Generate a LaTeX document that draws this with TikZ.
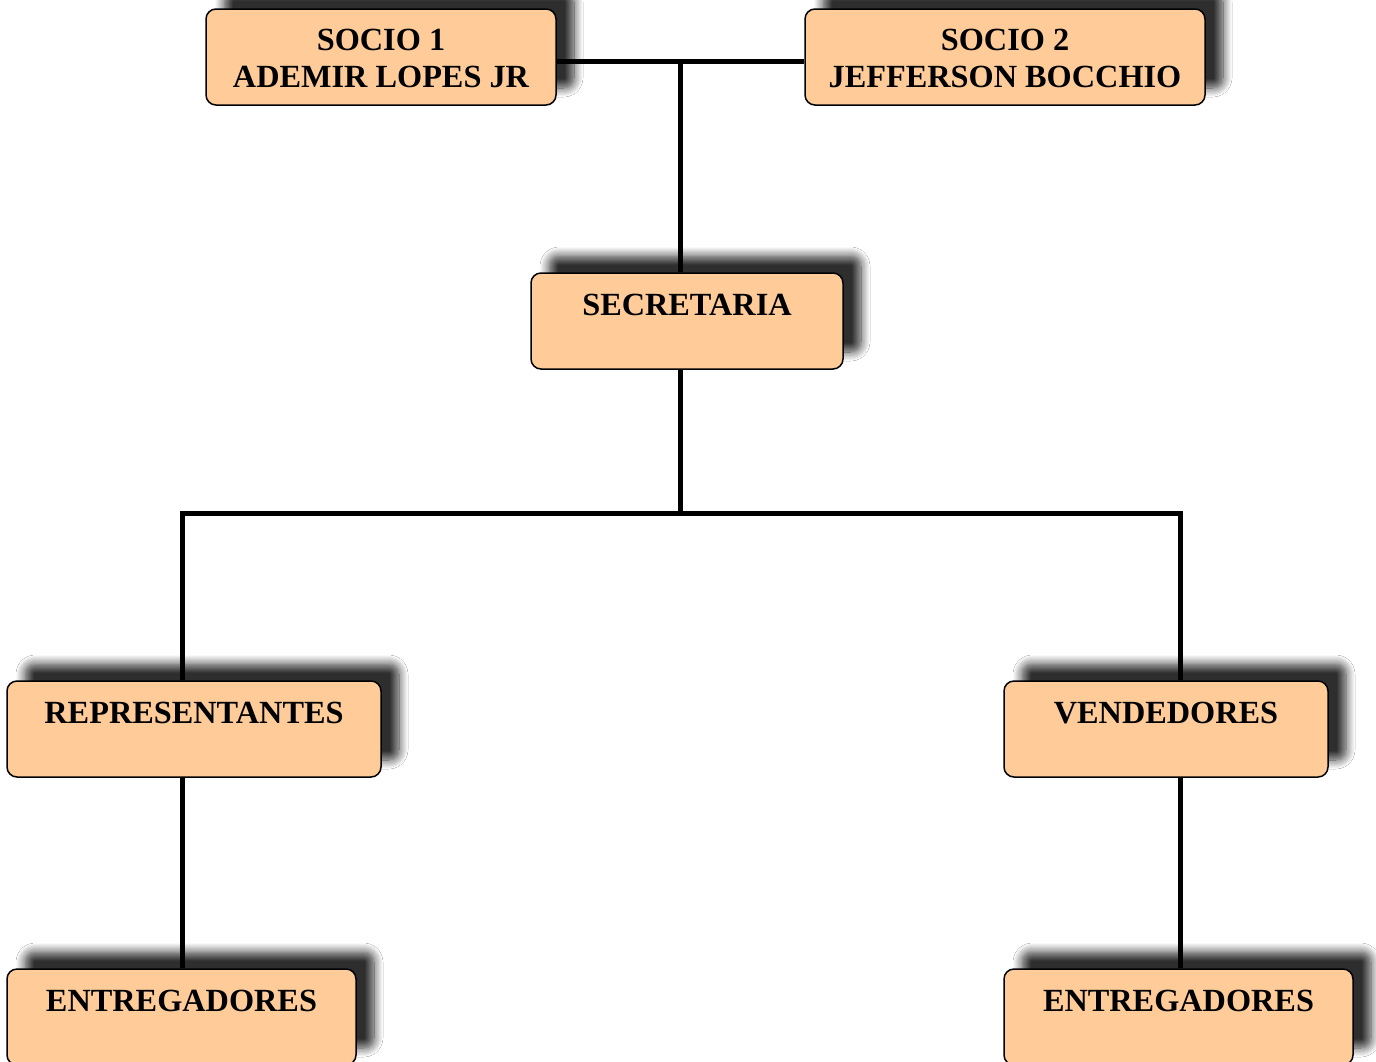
\documentclass[tikz,border=0pt]{standalone}
\usepackage{fontspec}
\setmainfont{Liberation Serif}
\usetikzlibrary{shadows.blur,calc}
\definecolor{peach}{HTML}{FFCC99}
\tikzset{
  orgbox/.style={draw=black, line width=1.5pt, fill=peach, rounded corners=10pt,
    minimum width=#1, minimum height=96pt, inner sep=0pt,
    blur shadow={shadow xshift=18pt, shadow yshift=17pt, shadow blur radius=9pt,
      shadow blur steps=10, shadow opacity=82}},
  lbl/.style={font=\fontsize{32.3}{38}\selectfont\bfseries, anchor=base, inner sep=0pt, align=center},
  conn/.style={draw=black, line width=5pt}
}
\begin{document}
\begin{tikzpicture}[x=1pt, y=-1pt]
\useasboundingbox (0,0) rectangle (1376,1061);
\clip (0,0) rectangle (1376,1061);
\fill[white] (0,0) rectangle (1376,1061);
% junction points
\coordinate (jtop) at (680,61);
\coordinate (jmid) at (680,513);
\coordinate (jl) at (182,513);
\coordinate (jr) at (1180,513);
% boxes
\node[orgbox=350pt] (s1) at (381,57) {};
\node[orgbox=400pt] (s2) at (1005,57) {};
\node[orgbox=312pt] (sec) at (687,321) {};
\node[orgbox=374pt] (rep) at (194,729) {};
\node[orgbox=324pt] (ven) at (1166,729) {};
\node[orgbox=349pt] (ent1) at (181.5,1017) {};
\node[orgbox=349pt] (ent2) at (1178.5,1017) {};
% connectors
\draw[conn] (s1.east |- jtop) -- (s2.west |- jtop);
\draw[conn] (jtop) -- (jtop |- sec.north);
\draw[conn] (jmid |- sec.south) -- (jmid);
\draw[conn] ([xshift=-2.5pt]jl) -- ([xshift=2.5pt]jr);
\draw[conn] (jl) -- (jl |- rep.north);
\draw[conn] (jr) -- (jr |- ven.north);
\draw[conn] (jl |- rep.south) -- (jl |- ent1.north);
\draw[conn] (jr |- ven.south) -- (jr |- ent2.north);
% labels
\node[lbl] (s1a) at ($(s1.north)+(0,42)$) {SOCIO 1};
\node[lbl] (s1b) at ($(s1.north)+(0,79)$) {ADEMIR LOPES JR};
\node[lbl] (s2a) at ($(s2.north)+(0,42)$) {SOCIO 2};
\node[lbl] (s2b) at ($(s2.north)+(0,79)$) {JEFFERSON BOCCHIO};
\node[lbl] (sect) at ($(sec.north)+(0,43)$) {SECRETARIA};
\node[lbl] (rept) at ($(rep.north)+(0,43)$) {REPRESENTANTES};
\node[lbl] (vent) at ($(ven.north)+(0,43)$) {VENDEDORES};
\node[lbl] (ent1t) at ($(ent1.north)+(0,43)$) {ENTREGADORES};
\node[lbl] (ent2t) at ($(ent2.north)+(0,43)$) {ENTREGADORES};
\end{tikzpicture}
\end{document}
